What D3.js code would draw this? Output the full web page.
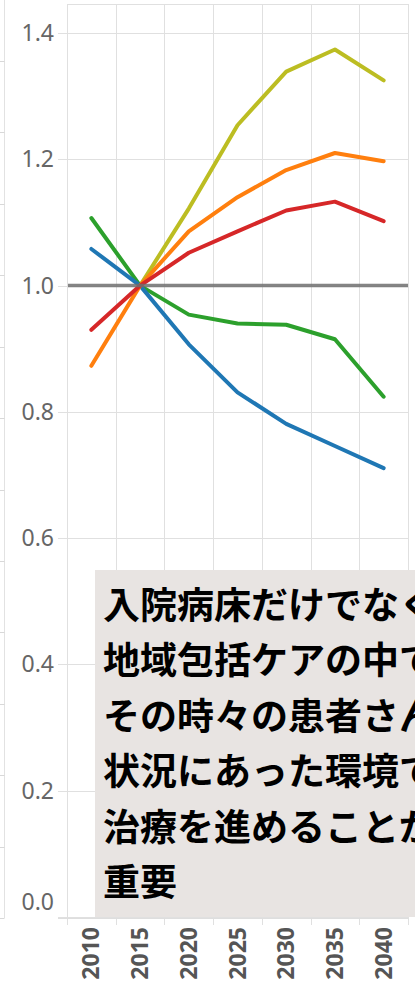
<!DOCTYPE html>
<html>
<head>
<meta charset="utf-8">
<script src="https://cdn.jsdelivr.net/npm/d3@7"></script>
<style>
  html, body { margin: 0; padding: 0; background: #fff; overflow: hidden; }
  svg { display: block; }
</style>
</head>
<body>
<svg id="chart" width="415" height="988"></svg>
<script>
// ---- data ----
const years = ["2010", "2015", "2020", "2025", "2030", "2035", "2040"];
const seriesOlive  = [null, 1.000, 1.122, 1.254, 1.339, 1.374, 1.325];
const seriesOrange = [0.873, 1.000, 1.086, 1.140, 1.183, 1.210, 1.197];
const seriesRed    = [0.930, 1.000, 1.052, 1.086, 1.119, 1.133, 1.102];
const seriesGreen  = [1.107, 1.000, 0.954, 0.940, 0.938, 0.915, 0.824];
const seriesBlue   = [1.058, 1.000, 0.907, 0.831, 0.781, 0.746, 0.711];
const yTicks = [0.0, 0.2, 0.4, 0.6, 0.8, 1.0, 1.2, 1.4];
const referenceValue = 1.0;
const noteLines = [
  "入院病床だけでなく",
  "地域包括ケアの中で",
  "その時々の患者さん",
  "状況にあった環境で",
  "治療を進めることが",
  "重要"
];
const seriesList = [
  { name: "olive",  color: "#bcbd22", values: seriesOlive },
  { name: "green",  color: "#2ca02c", values: seriesGreen },
  { name: "blue",   color: "#1f77b4", values: seriesBlue },
  { name: "orange", color: "#ff7f0e", values: seriesOrange },
  { name: "red",    color: "#d62728", values: seriesRed }
];

// ---- layout ----
const svg = d3.select("#chart");
const pLeft = 67, pRight = 408, pTop = 4, pBottom = 917;

const x = d3.scaleBand().domain(years).range([pLeft, pRight]).padding(0);
const y = d3.scaleLinear().domain([0, 1.446]).range([pBottom, pTop]);

// faint cropped neighbouring axis on the far left
const ghost = d3.scaleLinear().domain([0, 12]).range([pBottom + 1, 61]);
svg.append("line").attr("x1", 4.5).attr("x2", 4.5).attr("y1", 0).attr("y2", pBottom + 1)
  .attr("stroke", "#e2e2e2").attr("stroke-width", 1);
svg.append("g").selectAll("line").data(d3.range(0, 13)).join("line")
  .attr("x1", 0).attr("x2", 4.5)
  .attr("y1", d => Math.round(ghost(d)) + 0.5).attr("y2", d => Math.round(ghost(d)) + 0.5)
  .attr("stroke", "#d8d8d8").attr("stroke-width", 1);

// horizontal gridlines + y ticks
const grid = svg.append("g");
grid.selectAll("line.h").data(yTicks).join("line").attr("class", "h")
  .attr("x1", pLeft - 9).attr("x2", pRight)
  .attr("y1", d => Math.round(y(d)) + 0.5).attr("y2", d => Math.round(y(d)) + 0.5)
  .attr("stroke", "#e0e0e0").attr("stroke-width", 1);
grid.append("line").attr("x1", pLeft).attr("x2", pRight).attr("y1", pTop + 0.5).attr("y2", pTop + 0.5)
  .attr("stroke", "#e0e0e0");
const edges = years.map(d => x(d)).concat([pRight]);
grid.selectAll("line.v").data(edges).join("line").attr("class", "v")
  .attr("x1", d => Math.round(d) + 0.5).attr("x2", d => Math.round(d) + 0.5)
  .attr("y1", pTop).attr("y2", pBottom + 8)
  .attr("stroke", "#e0e0e0").attr("stroke-width", 1);
grid.append("line").attr("x1", pLeft - 9).attr("x2", pRight).attr("y1", pBottom + 1.5).attr("y2", pBottom + 1.5)
  .attr("stroke", "#dedede");

// y tick labels
svg.append("g").selectAll("text").data(yTicks).join("text")
  .attr("x", 54)
  .attr("y", d => y(d) + (d === 0 ? -15 : 0))
  .attr("dy", "0.35em")
  .attr("text-anchor", "end")
  .attr("font-family", "'Noto Sans', 'Open Sans', sans-serif")
  .attr("font-size", 23)
  .attr("fill", "#666")
  .text(d => d.toFixed(1));

// x tick labels (rotated)
svg.append("g").selectAll("text").data(years).join("text")
  .attr("transform", d => `translate(${x(d) + x.bandwidth() / 2 + 8},${pBottom + 10}) rotate(-90)`)
  .attr("text-anchor", "end")
  .attr("font-family", "'Noto Sans', 'Open Sans', sans-serif")
  .attr("font-weight", "bold")
  .attr("font-size", 23)
  .attr("fill", "#555")
  .text(d => d);

// series lines
const line = d3.line()
  .defined(d => d.v !== null)
  .x(d => x(d.year) + x.bandwidth() / 2)
  .y(d => y(d.v));
svg.append("g").selectAll("path").data(seriesList).join("path")
  .attr("d", s => line(years.map((yr, i) => ({ year: yr, v: s.values[i] }))))
  .attr("fill", "none")
  .attr("stroke", s => s.color)
  .attr("stroke-width", 4)
  .attr("stroke-linejoin", "round")
  .attr("stroke-linecap", "round");

// reference line at 1.0
svg.append("line")
  .attr("x1", pLeft + 1).attr("x2", pRight)
  .attr("y1", y(referenceValue)).attr("y2", y(referenceValue))
  .attr("stroke", "#6e6e6e").attr("stroke-opacity", 0.85).attr("stroke-width", 3.5);

// note box
svg.append("rect")
  .attr("x", 95).attr("y", 570).attr("width", 340).attr("height", pBottom - 570)
  .attr("fill", "#e8e4e2");
svg.append("g").selectAll("text").data(noteLines).join("text")
  .attr("x", 103)
  .attr("y", (d, i) => 619 + i * 55.4)
  .attr("font-family", "'Noto Sans CJK JP', sans-serif")
  .attr("font-weight", "bold")
  .attr("font-size", 37)
  .attr("fill", "#000")
  .text(d => d);
</script>
</body>
</html>
